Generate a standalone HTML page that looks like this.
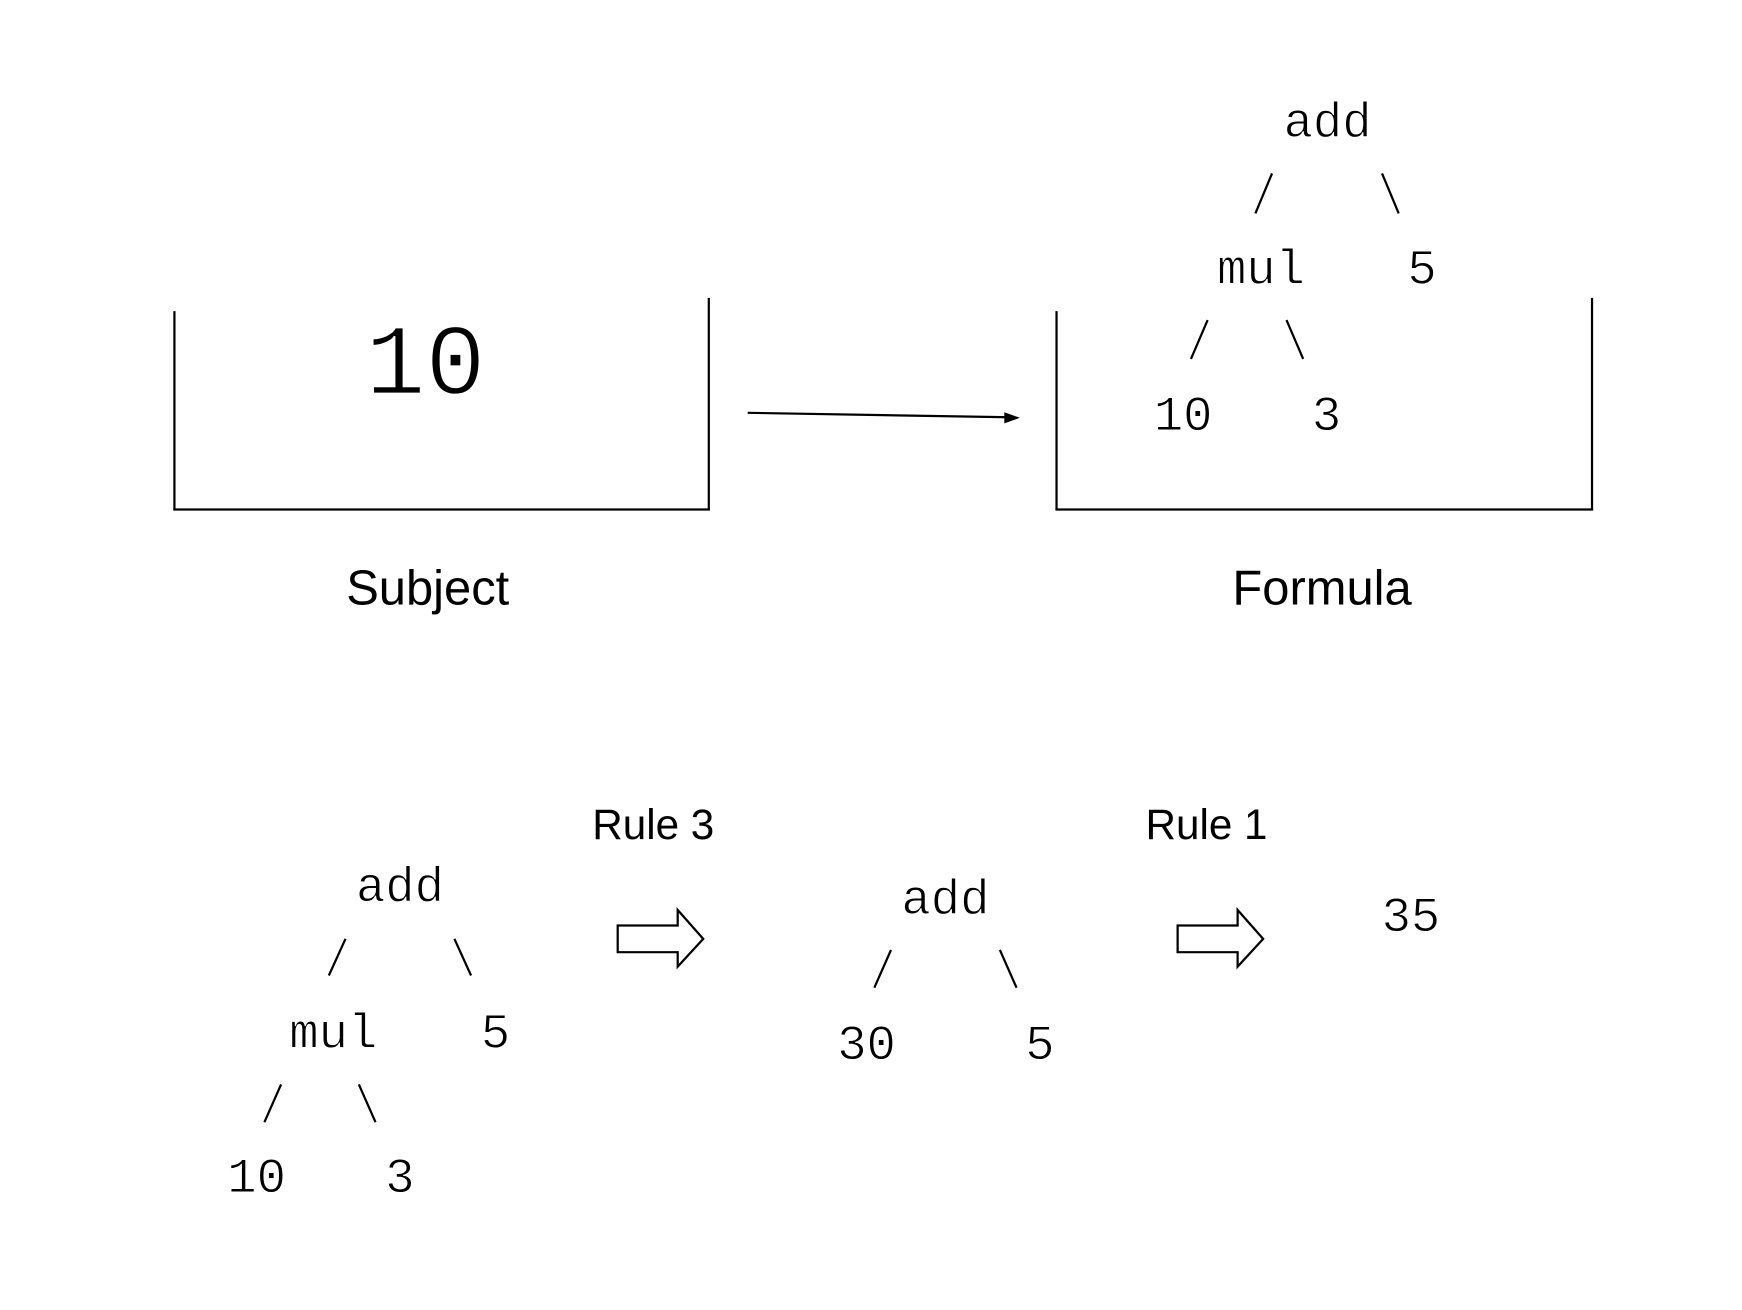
<!DOCTYPE html>
<html><head><meta charset="utf-8"><style>
html,body{margin:0;padding:0;background:#fff;}
svg{display:block;}
.m{font-family:"Liberation Mono","DejaVu Sans Mono",monospace;font-size:44px;fill:#000;stroke:#fff;stroke-width:0.8px;}
.s{font-family:"Liberation Sans",Arial,sans-serif;fill:#000;}
</style></head><body>
<svg width="1742" height="1310" viewBox="0 0 1568 1179" xmlns="http://www.w3.org/2000/svg">
<g stroke="#000" stroke-width="2" fill="none">
  <g>
    <line x1="157" y1="280" x2="157" y2="459"/>
    <line x1="638" y1="268" x2="638" y2="459"/>
    <line x1="156" y1="458.5" x2="639" y2="458.5"/>
  </g>
  <g>
    <line x1="951" y1="280" x2="951" y2="459"/>
    <line x1="1433" y1="268" x2="1433" y2="459"/>
    <line x1="950" y1="458.5" x2="1434" y2="458.5"/>
  </g>
  <line x1="673" y1="371.5" x2="908" y2="375.5"/>
  <g>
    <line x1="1130" y1="192" x2="1145" y2="156"/>
    <line x1="1244" y1="156" x2="1259" y2="192"/>
    <line x1="1072" y1="323" x2="1087" y2="288"/>
    <line x1="1158" y1="288" x2="1173" y2="323"/>
  </g>
  <g>
    <line x1="296" y1="878" x2="311" y2="845"/>
    <line x1="409" y1="845" x2="424" y2="878"/>
    <line x1="238" y1="1010" x2="253" y2="976"/>
    <line x1="323" y1="976" x2="338" y2="1010"/>
  </g>
  <g>
    <line x1="787" y1="889" x2="802" y2="855"/>
    <line x1="900" y1="855" x2="915" y2="889"/>
  </g>
  <polygon points="556,833 610,833 610,819 633,845 610,870 610,857 556,857"/>
  <polygon points="1060,833 1114,833 1114,819 1137,845 1114,870 1114,857 1060,857"/>
</g>
<polygon points="918,376 904,371 904,381" fill="#000"/>

<text class="m" x="383" y="354" text-anchor="middle" style="font-size:90px;stroke-width:1.5px">10</text>
<text class="s" x="385" y="544" text-anchor="middle" font-size="44">Subject</text>
<text class="s" x="1190" y="544" text-anchor="middle" font-size="44">Formula</text>

<g>
<text class="m" x="1195" y="123" text-anchor="middle">add</text>
<text class="m" x="1135" y="255" text-anchor="middle">mul</text>
<text class="m" x="1280" y="255" text-anchor="middle">5</text>
<text class="m" x="1065" y="387" text-anchor="middle">10</text>
<text class="m" x="1194" y="387" text-anchor="middle">3</text>
</g>

<text class="s" x="588" y="755" text-anchor="middle" font-size="38">Rule 3</text>
<text class="s" x="1086" y="755" text-anchor="middle" font-size="38">Rule 1</text>

<g>
<text class="m" x="360" y="811" text-anchor="middle">add</text>
<text class="m" x="300" y="943" text-anchor="middle">mul</text>
<text class="m" x="446" y="943" text-anchor="middle">5</text>
<text class="m" x="231" y="1073" text-anchor="middle">10</text>
<text class="m" x="360" y="1073" text-anchor="middle">3</text>
</g>
<g>
<text class="m" x="851" y="822" text-anchor="middle">add</text>
<text class="m" x="780" y="953" text-anchor="middle">30</text>
<text class="m" x="936" y="953" text-anchor="middle">5</text>
</g>
<text class="m" x="1270" y="838" text-anchor="middle">35</text>
</svg>
</body></html>
